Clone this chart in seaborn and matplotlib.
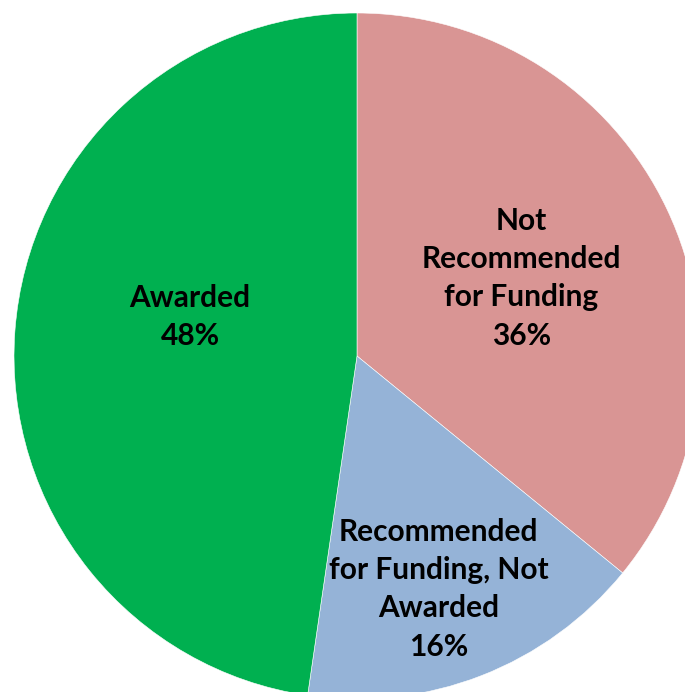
import numpy as np
import seaborn as sns
import matplotlib
matplotlib.use("Agg")
import matplotlib.pyplot as plt

# slices clockwise from the top
categories = ["Not\nRecommended\nfor Funding", "Recommended\nfor Funding, Not\nAwarded", "Awarded"]
shares = [35.9, 16.4, 47.7]
colors = ["#D99594", "#95B3D7", "#00B050"]

sns.set_style("white")
plt.rcParams['font.family'] = ['Lato', 'DejaVu Sans']

fig = plt.figure(figsize=(6.85, 6.92), dpi=100)
ax = fig.add_axes([0, 0, 1, 1])

wedges, _ = ax.pie(shares, colors=colors, startangle=90, counterclock=False,
                   radius=1.0, wedgeprops=dict(edgecolor="white", linewidth=0.4))

# label placement: radius fraction and angle nudge (deg) per slice
label_r = [0.53, 0.72, 0.50]
label_nudge = [0, -2, -9]
for w, cat, pct, r, nd in zip(wedges, categories, shares, label_r, label_nudge):
    ang = np.deg2rad((w.theta1 + w.theta2) / 2 + nd)
    ax.text(r * np.cos(ang), r * np.sin(ang), f"{cat}\n{pct:.0f}%", ha="center", va="center",
            fontsize=21.5, fontweight="bold", linespacing=1.45, color="black")

ax.set_aspect("auto")
ax.set_xlim(-357 / 343, (685 - 357) / 343)
ax.set_ylim(-(692 - 356) / 343, 356 / 343)
ax.axis("off")

plt.savefig("out.png", dpi=100)
plt.close()
